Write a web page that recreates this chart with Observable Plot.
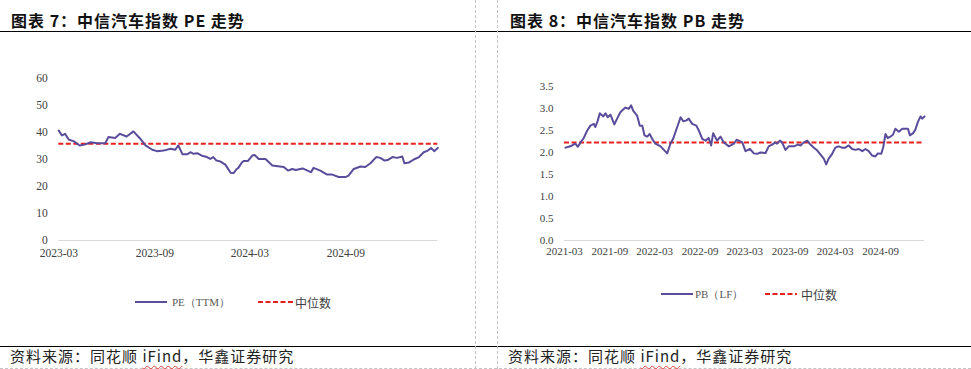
<!DOCTYPE html>
<html>
<head>
<meta charset="utf-8">
<script src="https://cdn.jsdelivr.net/npm/d3@7"></script>
<script src="https://cdn.jsdelivr.net/npm/@observablehq/plot@0.6"></script>
<style>
  html, body { margin: 0; padding: 0; background: #fff; }
  #page { position: relative; width: 971px; height: 369px; overflow: hidden; background: #fff; }
  .abs { position: absolute; }
  .title { font-family: "Noto Sans CJK SC", sans-serif; font-weight: 700; font-size: 16px; line-height: 20px; letter-spacing: 1px; color: #111; white-space: nowrap; }
  .source { font-family: "Noto Sans CJK SC", sans-serif; font-size: 15px; line-height: 18px; letter-spacing: 1px; color: #222; white-space: nowrap; }
  .source .ifind { text-decoration: underline wavy #e04040; text-decoration-thickness: 1px; text-underline-offset: 3px; }
  .hline { height: 1.5px; background: #000; left: 0; width: 971px; }
  .vdash { width: 0; top: 0; height: 369px; border-left: 1px dashed #c4c4c4; }
  .legend { display: flex; align-items: center; height: 16px; white-space: nowrap; }
  .legend .lab-serif { font-family: "Liberation Serif", serif; font-size: 11px; color: #595959; }
  .legend .lab-cjk { font-family: "Noto Sans CJK SC", sans-serif; font-size: 12px; color: #404040; }
</style>
</head>
<body>
<div id="page">
  <div class="abs title" style="left:11px; top:10px;">图表 7：中信汽车指数 PE 走势</div>
  <div class="abs title" style="left:510px; top:10px;">图表 8：中信汽车指数 PB 走势</div>
  <div class="abs hline" style="top:30.5px;"></div>
  <div class="abs hline" style="top:345.5px;"></div>
  <div class="abs vdash" style="left:475px;"></div>
  <div class="abs vdash" style="left:497px;"></div>
  <div class="abs" style="left:0; top:368px; width:971px; height:0; border-top:1px dashed #c4c4c4;"></div>
  <div id="peChart" class="abs" style="left:0; top:0;"></div>
  <div id="pbChart" class="abs" style="left:497px; top:0;"></div>

  <div class="abs legend" style="left:135px; top:294px;">
    <svg width="32" height="16"><line x1="0" x2="32" y1="8" y2="8" stroke="#5b4c9b" stroke-width="2"/></svg>
    <span class="lab-serif" style="margin-left:5px;">PE（TTM）</span>
  </div>
  <div class="abs legend" style="left:258px; top:294px;">
    <svg width="35" height="16"><line x1="0" x2="35" y1="8" y2="8" stroke="#e8201e" stroke-width="2" stroke-dasharray="5,2.5"/></svg>
    <span class="lab-cjk" style="margin-left:2px;">中位数</span>
  </div>
  <div class="abs legend" style="left:661px; top:286px;">
    <svg width="32" height="16"><line x1="0" x2="32" y1="8" y2="8" stroke="#5b4c9b" stroke-width="2"/></svg>
    <span class="lab-serif" style="margin-left:2px;">PB（LF）</span>
  </div>
  <div class="abs legend" style="left:765px; top:286px;">
    <svg width="32" height="16"><line x1="0" x2="32" y1="8" y2="8" stroke="#e8201e" stroke-width="2" stroke-dasharray="5,2.5"/></svg>
    <span class="lab-cjk" style="margin-left:4px;">中位数</span>
  </div>

  <div class="abs source" style="left:10px; top:347px;">资料来源：同花顺 <span class="ifind">iFind</span>，华鑫证券研究</div>
  <div class="abs source" style="left:508px; top:347px;">资料来源：同花顺 <span class="ifind">iFind</span>，华鑫证券研究</div>
</div>
<script>
// ---- PE chart data ----
const peDates = ["2023-03-01","2023-03-07","2023-03-13","2023-03-20","2023-03-30","2023-04-10","2023-04-21","2023-05-01","2023-05-14","2023-05-29",
  "2023-06-04","2023-06-17","2023-06-26","2023-07-09","2023-07-22","2023-08-04","2023-08-14","2023-08-27","2023-09-05","2023-09-18",
  "2023-10-01","2023-10-10","2023-10-16","2023-10-24","2023-11-02","2023-11-08","2023-11-14","2023-11-22","2023-11-30","2023-12-10",
  "2023-12-16","2023-12-22","2023-12-28","2024-01-04","2024-01-14","2024-01-24","2024-01-30","2024-02-05","2024-02-08","2024-02-15",
  "2024-02-18","2024-02-26","2024-03-06","2024-03-10","2024-03-18","2024-03-31","2024-04-13","2024-05-05","2024-05-13","2024-05-21",
  "2024-05-28","2024-06-10","2024-06-26","2024-07-01","2024-07-14","2024-07-27","2024-08-06","2024-08-18","2024-08-31","2024-09-06",
  "2024-09-16","2024-09-29","2024-10-08","2024-10-18","2024-10-29","2024-11-06","2024-11-14","2024-11-20","2024-11-29","2024-12-08",
  "2024-12-18","2024-12-22","2024-12-31","2025-01-09","2025-01-19","2025-01-28","2025-02-05","2025-02-11","2025-02-17","2025-02-24"];
const peValues = [40.7,38.9,39.5,37.4,36.7,35.2,35.6,36.4,36.0,36.0,
  38.3,38.0,39.5,38.5,40.4,37.7,35.2,33.6,33.1,33.3,
  34.0,33.6,35.2,31.9,31.9,32.7,32.1,32.3,31.4,30.9,
  30.2,30.9,29.6,29.3,28.1,25.1,25.0,26.5,26.9,29.0,
  29.4,29.4,31.5,31.7,30.2,30.2,27.8,27.2,25.9,26.5,
  26.1,26.7,25.3,26.9,25.9,24.4,24.4,23.5,23.5,24.0,
  26.5,27.4,27.2,28.6,30.9,30.6,29.6,29.8,30.9,30.6,
  31.1,28.6,28.9,30.0,30.9,32.7,33.3,34.3,33.1,34.3];
const peMedian = 35.8;
const peXTicks = ["2023-03-01","2023-09-01","2024-03-01","2024-09-01"];
const peYTicks = [0,10,20,30,40,50,60];
const peXDomain = ["2023-03-01","2025-02-24"];

// ---- PB chart data ----
const pbDates = ["2021-03-05","2021-03-18","2021-04-01","2021-04-14","2021-04-24","2021-05-05","2021-05-18","2021-06-01","2021-06-14","2021-06-28",
  "2021-07-04","2021-07-14","2021-07-22","2021-08-05","2021-08-14","2021-08-23","2021-09-03","2021-09-19","2021-09-30","2021-10-14",
  "2021-11-03","2021-11-16","2021-11-26","2021-12-04","2021-12-20","2021-12-31","2022-01-10","2022-01-19","2022-01-30","2022-02-09",
  "2022-02-19","2022-03-04","2022-03-25","2022-04-21","2022-05-04","2022-05-15","2022-05-29","2022-06-14","2022-06-25","2022-07-08",
  "2022-07-17","2022-07-31","2022-08-17","2022-08-27","2022-09-10","2022-09-23","2022-10-06","2022-10-16","2022-10-24","2022-11-09",
  "2022-11-23","2022-12-06","2022-12-13","2022-12-27","2023-01-09","2023-01-16","2023-01-27","2023-02-09","2023-02-19","2023-03-04",
  "2023-03-22","2023-04-07","2023-04-20","2023-05-04","2023-05-24","2023-06-06","2023-06-20","2023-07-03","2023-07-10","2023-07-21",
  "2023-07-30","2023-08-13","2023-08-26","2023-09-16","2023-10-02","2023-10-13","2023-10-26","2023-11-09","2023-11-19","2023-12-06",
  "2023-12-19","2024-01-02","2024-01-15","2024-01-25","2024-02-04","2024-02-18","2024-03-02","2024-03-15","2024-03-29","2024-04-11",
  "2024-04-25","2024-05-09","2024-05-22","2024-06-05","2024-06-19","2024-07-02","2024-07-15","2024-07-29","2024-08-11","2024-08-21",
  "2024-09-04","2024-09-12","2024-09-21","2024-09-30","2024-10-11","2024-10-22","2024-10-31","2024-11-14","2024-11-28","2024-12-11",
  "2024-12-21","2024-12-29","2025-01-11","2025-01-20","2025-01-30","2025-02-10","2025-02-17","2025-02-26"];
const pbValues = [2.11,2.13,2.16,2.20,2.13,2.23,2.33,2.50,2.61,2.65,
  2.58,2.73,2.89,2.82,2.89,2.80,2.86,2.64,2.77,2.92,
  3.02,2.99,3.07,2.95,2.84,2.61,2.61,2.39,2.36,2.42,
  2.31,2.20,2.14,1.98,2.20,2.31,2.54,2.80,2.71,2.73,
  2.77,2.65,2.61,2.50,2.31,2.27,2.33,2.16,2.44,2.27,
  2.36,2.23,2.20,2.14,2.18,2.20,2.29,2.26,2.23,2.03,
  2.08,1.98,1.97,2.00,1.99,2.14,2.18,2.23,2.20,2.27,
  2.23,2.06,2.14,2.14,2.18,2.16,2.23,2.27,2.20,2.11,
  2.05,1.95,1.86,1.73,1.86,1.97,2.11,2.14,2.11,2.11,
  2.16,2.08,2.06,2.08,2.03,2.08,2.03,1.93,1.91,1.98,
  1.97,2.12,2.42,2.33,2.36,2.41,2.54,2.47,2.54,2.54,
  2.54,2.39,2.44,2.52,2.69,2.82,2.77,2.82];
const pbMedian = 2.23;
const pbXTicks = ["2021-03-01","2021-09-01","2022-03-01","2022-09-01","2023-03-01","2023-09-01","2024-03-01","2024-09-01"];
const pbYTicks = [0,0.5,1,1.5,2,2.5,3,3.5];
const pbXDomain = ["2021-03-01","2025-02-26"];

const LINE = "#5b4c9b";
const RED = "#e8201e";
const toDate = s => new Date(s + "T00:00:00Z");

function makeChart({dates, values, median, xTicks, yTicks, xDomain, yDomain, yFmt, width, ml, mr, mt, mb, fontSize, xPad}) {
  const data = dates.map((d, i) => ({date: toDate(d), value: values[i]}));
  return Plot.plot({
    width, height: 270,
    marginLeft: ml, marginRight: mr, marginTop: mt, marginBottom: mb,
    style: {fontFamily: "'Liberation Serif', 'Times New Roman', serif", fontSize: fontSize + "px", color: "#404040", background: "transparent", overflow: "visible"},
    x: {type: "utc", domain: xDomain.map(toDate), label: null},
    y: {domain: yDomain, label: null},
    marks: [
      Plot.ruleY([0], {stroke: "#d9d9d9", strokeWidth: 1}),
      Plot.axisX({ticks: xTicks.map(toDate), tickFormat: d3.utcFormat("%Y-%m"), tickSize: 0, tickPadding: xPad, label: null}),
      Plot.axisY({ticks: yTicks, tickFormat: yFmt, tickSize: 0, tickPadding: 11, label: null}),
      Plot.ruleY([median], {stroke: RED, strokeWidth: 2, strokeDasharray: "5,2.5"}),
      Plot.line(data, {x: "date", y: "value", stroke: LINE, strokeWidth: 2})
    ]
  });
}

document.getElementById("peChart").append(makeChart({
  dates: peDates, values: peValues, median: peMedian, xTicks: peXTicks, yTicks: peYTicks,
  xDomain: peXDomain, yDomain: [0, 60], yFmt: d3.format("d"),
  width: 475, ml: 58.3, mr: 37.7, mt: 78, mb: 30, fontSize: 11.5, xPad: 8
}));
document.getElementById("pbChart").append(makeChart({
  dates: pbDates, values: pbValues, median: pbMedian, xTicks: pbXTicks, yTicks: pbYTicks,
  xDomain: pbXDomain, yDomain: [0, 3.5], yFmt: d3.format(".1f"),
  width: 474, ml: 67, mr: 47, mt: 86, mb: 30, fontSize: 11, xPad: 7
}));
</script>
</body>
</html>
